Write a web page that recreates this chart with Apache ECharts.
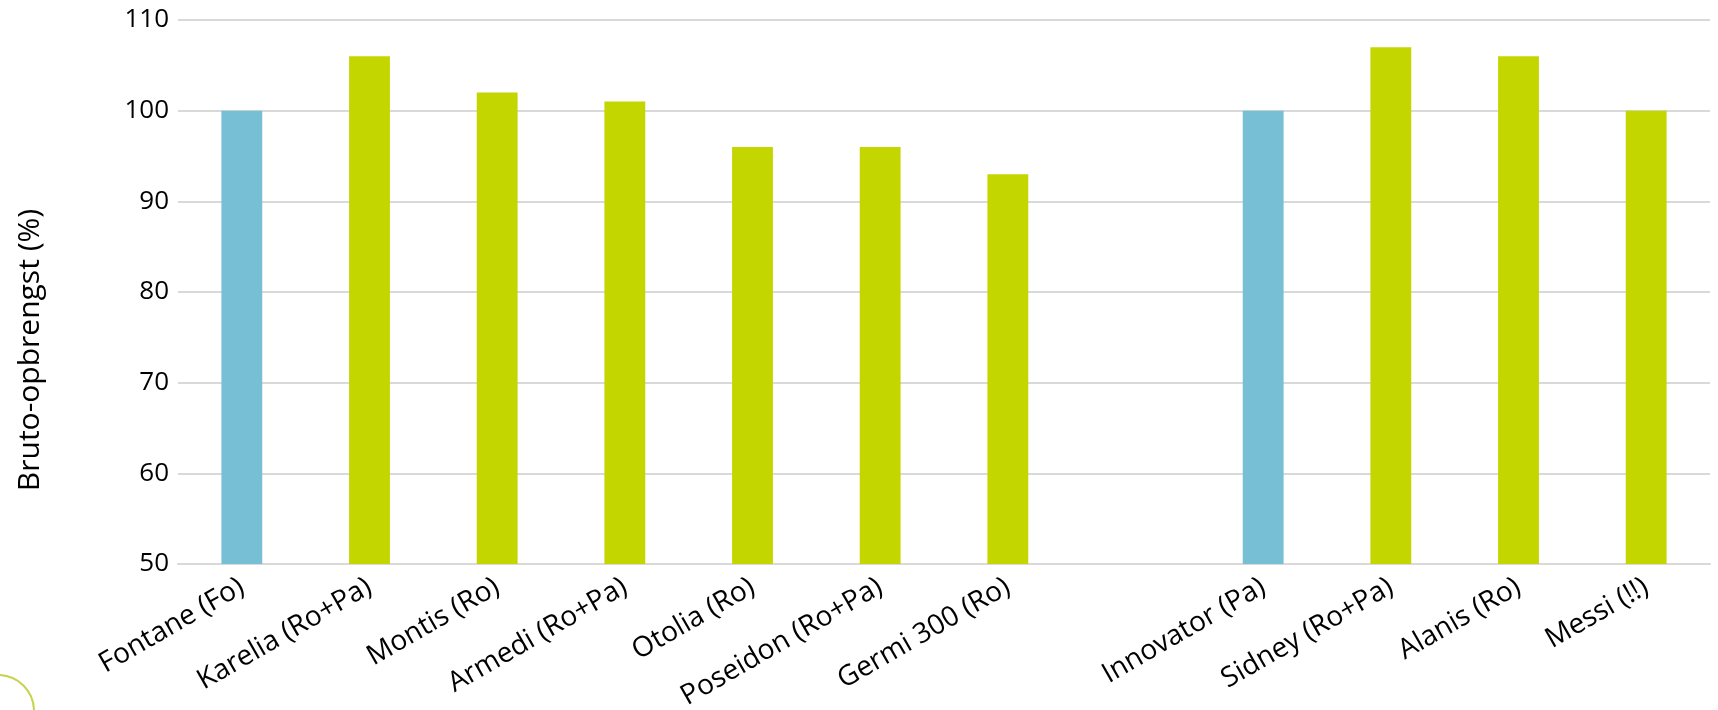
<!DOCTYPE html>
<html>
<head>
<meta charset="utf-8">
<script src="https://cdn.jsdelivr.net/npm/echarts@6/dist/echarts.min.js"></script>
<style>
  html, body { margin: 0; padding: 0; background: #ffffff; }
  #chart { width: 1718px; height: 710px; }
</style>
</head>
<body>
<div id="chart"></div>
<script>
// Categories (an empty slot separates the two groups)
const categories = [
  'Fontane (Fo)', 'Karelia (Ro+Pa)', 'Montis (Ro)', 'Armedi (Ro+Pa)',
  'Otolia (Ro)', 'Poseidon (Ro+Pa)', 'Germi 300 (Ro)', '',
  'Innovator (Pa)', 'Sidney (Ro+Pa)', 'Alanis (Ro)', 'Messi (!!)'
];
// Reference varieties (blue bars)
const referenceValues = [100, '-', '-', '-', '-', '-', '-', '-', 100, '-', '-', '-'];
// Compared varieties (green bars)
const varietyValues = ['-', 106, 102, 101, 96, 96, 93, '-', '-', 107, 106, 100];
// Y axis
const yMin = 50, yMax = 110, yStep = 10;
const yTitle = 'Bruto-opbrengst (%)';

const chart = echarts.init(document.getElementById('chart'), null, { renderer: 'canvas' });
const font = '"Open Sans", "Noto Sans", sans-serif';

chart.setOption({
  animation: false,
  backgroundColor: '#ffffff',
  grid: { left: 178, right: 8, top: 20, bottom: 146, containLabel: false, outerBoundsMode: 'none' },
  xAxis: {
    type: 'category',
    data: categories,
    axisLine: { show: true, lineStyle: { color: '#d9d9d9', width: 2 } },
    axisTick: { show: false },
    axisLabel: {
      interval: 0, rotate: 30, margin: 21,
      color: '#000000', fontFamily: font, fontSize: 28
    },
    splitLine: { show: false }
  },
  yAxis: {
    type: 'value',
    min: yMin, max: yMax, interval: yStep,
    axisLine: { show: false },
    axisTick: { show: false },
    axisLabel: { color: '#000000', fontFamily: font, fontSize: 26, margin: 9 },
    splitLine: { show: true, lineStyle: { color: '#d9d9d9', width: 2 } }
  },
  series: [
    {
      name: 'Referentie', type: 'bar', data: referenceValues,
      barWidth: '32%', barGap: '-100%',
      itemStyle: { color: '#77bfd4' }
    },
    {
      name: 'Rassen', type: 'bar', data: varietyValues,
      barWidth: '32%', barGap: '-100%',
      itemStyle: { color: '#c4d600' }
    }
  ],
  graphic: [
    {
      type: 'text',
      x: 30, y: 350,
      rotation: Math.PI / 2,
      style: {
        text: yTitle, fill: '#000000', font: '30px "Open Sans", "Noto Sans", sans-serif',
        align: 'center', verticalAlign: 'middle'
      }
    },
    {
      type: 'circle',
      shape: { cx: -2, cy: 711, r: 36 },
      style: { fill: 'none', stroke: '#c8d24a', lineWidth: 2 },
      silent: true
    }
  ]
});
</script>
</body>
</html>
